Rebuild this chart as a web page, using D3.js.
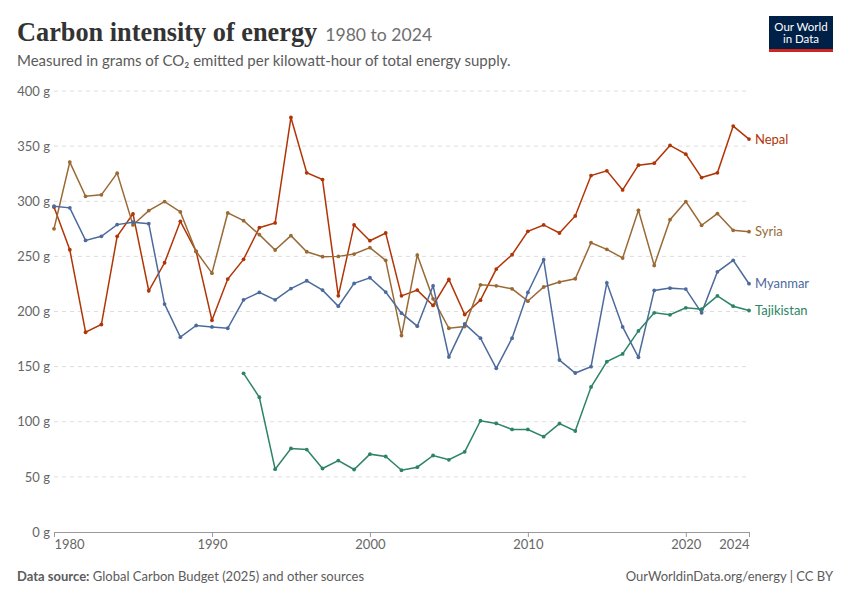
<!DOCTYPE html>
<html>
<head>
<meta charset="utf-8">
<script src="https://cdn.jsdelivr.net/npm/d3@7"></script>
<style>
    body { margin: 0; background: #fff; }
    svg { font-family: Lato, "Open Sans", sans-serif; }
</style>
</head>
<body>
<svg id="chart" width="850" height="600"></svg>
<script>
// Years shown on the x axis
const years = d3.range(1980, 2025);

// Carbon intensity, g CO2 per kWh
const nepal = [
    294.8, 256, 181.2, 188.2, 268.2, 288.5, 218.8, 244.2, 281.8, 254.5,
    192.1, 229.4, 247.3, 276, 280.3, 376, 325.8, 319.7, 214.2, 278.5,
    264.2, 271.2, 214.2, 219.4, 205.5, 229.1, 197.3, 210.3, 238.5, 251.5,
    272.7, 278.5, 271.2, 286.7, 323.3, 327.6, 310.3, 332.7, 334.5, 350.6,
    342.7, 321.5, 325.8, 368.2, 356.4
];
const syria = [
    275, 335.5, 304.5, 305.8, 325.5, 278.5, 291.5, 299.7, 290.3, 254.5,
    234.8, 289.4, 282.4, 269.7, 255.8, 268.8, 254.2, 249.7, 250, 252.1,
    257.9, 246.4, 178.2, 251.2, 211.5, 184.8, 186.4, 224.2, 223.3, 220.6,
    209.4, 222.2, 226.7, 229.7, 262.4, 256.4, 248.5, 291.8, 241.8, 283.3,
    299.7, 278.2, 288.8, 273.6, 272.4
];
const myanmar = [
    295.5, 294, 264.5, 268.2, 278.8, 281, 279.7, 206.7, 176.7, 187.3,
    186, 184.8, 210.6, 217.3, 210.6, 220.8, 227.9, 219.4, 204.8, 225.5,
    230.6, 217.6, 198.5, 186.7, 223.3, 158.8, 188.8, 175.8, 148.5, 175.8,
    217.3, 247, 156, 144.2, 150, 226, 186, 158.5, 219.1, 221.2,
    220.3, 198.8, 236, 246.4, 225.2
];
// no data before 1992
const tajikistan = [
    null, null, null, null, null, null, null, null, null, null,
    null, null, 143.9, 122.2, 57, 75.8, 74.8, 57.6, 64.8, 56.7,
    70.6, 68.5, 56, 58.8, 69.4, 65.5, 72.7, 100.9, 98.5, 93,
    93, 86.5, 98.3, 91.6, 131.5, 154.5, 161.5, 182.4, 198.8, 197,
    203.3, 202.1, 214.2, 204.8, 200.9
];

const countries = ["Nepal", "Syria", "Myanmar", "Tajikistan"];
const yTicks = [0, 50, 100, 150, 200, 250, 300, 350, 400];
const xTicks = [1980, 1990, 2000, 2010, 2020, 2024];

let svg = d3.select("#chart");

let series = [
    {name: "Nepal", values: nepal, color: "#b13507"},
    {name: "Syria", values: syria, color: "#9a6a35"},
    {name: "Myanmar", values: myanmar, color: "#4c6a9c"},
    {name: "Tajikistan", values: tajikistan, color: "#2c8465"}
];

let x = d3.scaleLinear().domain([1980, 2024]).range([54, 749]);
let y = d3.scaleLinear().domain([0, 400]).range([532, 91]);

// ---- header ----
let title = svg.append("text")
    .attr("x", 17)
    .attr("y", 41)
    .style("font-family", "'Liberation Serif', 'DejaVu Serif', serif")
    .style("font-weight", "bold")
    .style("font-size", "26.3px")
    .style("fill", "#333");
title.append("tspan").text("Carbon intensity of energy");
title.append("tspan")
    .attr("dx", 8)
    .style("font-family", "Lato, sans-serif")
    .style("font-weight", "normal")
    .style("font-size", "17.6px")
    .style("fill", "#6e6e6e")
    .text("1980 to 2024");

svg.append("text")
    .attr("x", 17)
    .attr("y", 66)
    .style("font-size", "15px")
    .style("fill", "#5b5b5b")
    .text("Measured in grams of CO₂ emitted per kilowatt-hour of total energy supply.");

// logo
let logo = svg.append("g");
logo.append("rect")
    .attr("x", 769).attr("y", 16)
    .attr("width", 64).attr("height", 34)
    .style("fill", "#002147");
logo.append("rect")
    .attr("x", 769).attr("y", 49)
    .attr("width", 64).attr("height", 3)
    .style("fill", "#ce261e");
logo.selectAll("text.logo")
    .data(["Our World", "in Data"])
    .enter()
    .append("text")
    .attr("class", "logo")
    .attr("x", 801)
    .attr("y", (d, i) => 31 + i * 12)
    .style("text-anchor", "middle")
    .style("font-size", "11.5px")
    .style("fill", "#fff")
    .text(d => d);

// ---- y axis: dashed gridlines ----
let yAxis = d3.axisLeft(y)
    .tickValues(yTicks)
    .tickSize(0)
    .tickFormat(d => d + " g");

svg.append("g")
    .attr("transform", "translate(54,0)")
    .call(yAxis)
    .call(g => g.select(".domain").remove())
    .call(g => g.selectAll("text")
        .attr("x", -4)
        .style("font-family", "Lato, sans-serif")
        .style("font-size", "13px")
        .style("fill", "#666"));

svg.append("g")
    .selectAll("line")
    .data(yTicks.filter(d => d > 0))
    .enter()
    .append("line")
    .attr("x1", 54).attr("x2", 749)
    .attr("y1", d => y(d)).attr("y2", d => y(d))
    .style("stroke", "#ddd")
    .style("stroke-dasharray", "4,4");

// ---- x axis ----
let xAxis = d3.axisBottom(x)
    .tickValues(xTicks)
    .tickSize(5)
    .tickSizeOuter(0)
    .tickFormat(d3.format("d"));

svg.append("g")
    .attr("transform", "translate(0,532)")
    .call(xAxis)
    .call(g => g.select(".domain").style("stroke", "#999"))
    .call(g => g.selectAll(".tick line").style("stroke", "#999"))
    .call(g => g.selectAll("text")
        .attr("y", 8)
        .style("font-family", "Lato, sans-serif")
        .style("font-size", "13px")
        .style("fill", "#666")
        .style("text-anchor", d => d === 1980 ? "start" : (d === 2024 ? "end" : "middle")));

// ---- lines ----
let line = d3.line()
    .defined(d => d.v !== null)
    .x(d => x(d.year))
    .y(d => y(d.v));

let groups = svg.append("g")
    .selectAll("g")
    .data(series)
    .enter()
    .append("g");

groups.append("path")
    .attr("d", s => line(years.map((yr, i) => ({year: yr, v: s.values[i]}))))
    .style("fill", "none")
    .style("stroke", s => s.color)
    .style("stroke-width", 1.5);

groups.selectAll("circle")
    .data(s => years.map((yr, i) => ({year: yr, v: s.values[i], color: s.color}))
        .filter(d => d.v !== null))
    .enter()
    .append("circle")
    .attr("cx", d => x(d.year))
    .attr("cy", d => y(d.v))
    .attr("r", 1.9)
    .style("fill", d => d.color);

// end labels
groups.append("text")
    .attr("x", 755)
    .attr("y", s => y(s.values[s.values.length - 1]))
    .attr("dy", "0.35em")
    .style("font-size", "13px")
    .style("fill", s => s.color)
    .text(s => s.name);

// ---- footer ----
let source = svg.append("text")
    .attr("x", 17)
    .attr("y", 581)
    .style("font-size", "13px")
    .style("fill", "#5b5b5b");
source.append("tspan").style("font-weight", "bold").text("Data source:");
source.append("tspan").text(" Global Carbon Budget (2025) and other sources");

svg.append("text")
    .attr("x", 833)
    .attr("y", 581)
    .style("text-anchor", "end")
    .style("font-size", "13px")
    .style("fill", "#5b5b5b")
    .text("OurWorldinData.org/energy | CC BY");
</script>
</body>
</html>
